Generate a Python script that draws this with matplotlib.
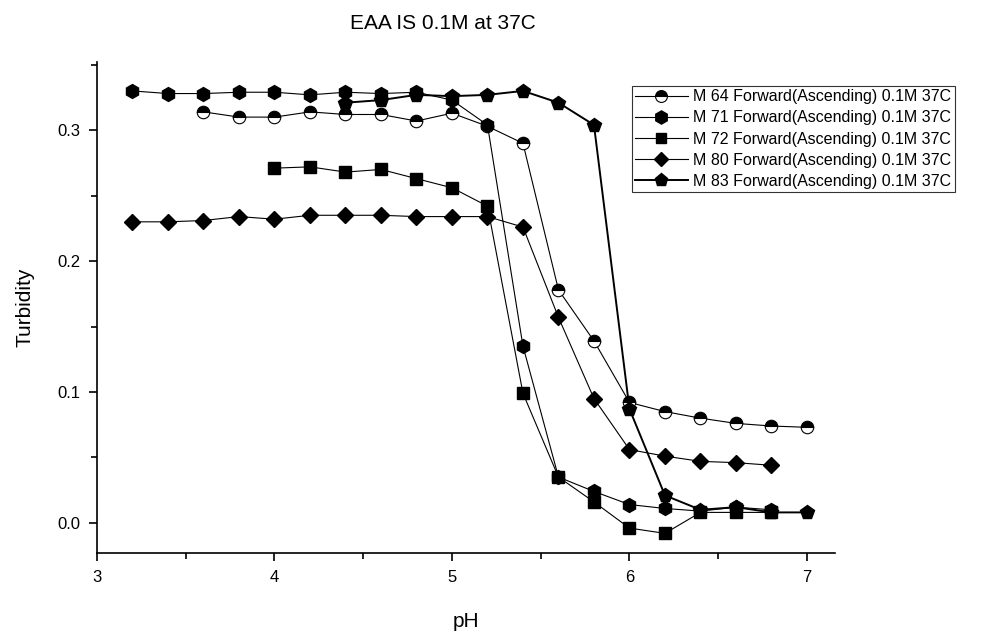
import matplotlib
matplotlib.use("Agg")
import matplotlib.pyplot as plt
from matplotlib.ticker import MultipleLocator

plt.rcParams['font.family'] = ['Liberation Sans', 'DejaVu Sans']

# pH values
ph_m64 = [3.6, 3.8, 4.0, 4.2, 4.4, 4.6, 4.8, 5.0, 5.2, 5.4, 5.6, 5.8, 6.0, 6.2, 6.4, 6.6, 6.8, 7.0]
tu_m64 = [0.314, 0.310, 0.310, 0.314, 0.312, 0.312, 0.307, 0.313, 0.303, 0.290, 0.178, 0.139,
          0.092, 0.085, 0.080, 0.076, 0.074, 0.073]

ph_m71 = [3.2, 3.4, 3.6, 3.8, 4.0, 4.2, 4.4, 4.6, 4.8, 5.0, 5.2, 5.4, 5.6, 5.8, 6.0, 6.2, 6.4, 6.6, 6.8]
tu_m71 = [0.330, 0.328, 0.328, 0.329, 0.329, 0.327, 0.329, 0.328, 0.329, 0.323, 0.304, 0.135,
          0.035, 0.024, 0.014, 0.011, 0.009, 0.012, 0.010]

ph_m72 = [4.0, 4.2, 4.4, 4.6, 4.8, 5.0, 5.2, 5.4, 5.6, 5.8, 6.0, 6.2, 6.4, 6.6, 6.8]
tu_m72 = [0.271, 0.272, 0.268, 0.270, 0.263, 0.256, 0.242, 0.099, 0.035, 0.016, -0.004, -0.008,
          0.008, 0.008, 0.008]

ph_m80 = [3.2, 3.4, 3.6, 3.8, 4.0, 4.2, 4.4, 4.6, 4.8, 5.0, 5.2, 5.4, 5.6, 5.8, 6.0, 6.2, 6.4, 6.6, 6.8]
tu_m80 = [0.230, 0.230, 0.231, 0.234, 0.232, 0.235, 0.235, 0.235, 0.234, 0.234, 0.234, 0.226,
          0.157, 0.095, 0.056, 0.051, 0.047, 0.046, 0.044]

ph_m83 = [4.4, 4.6, 4.8, 5.0, 5.2, 5.4, 5.6, 5.8, 6.0, 6.2, 6.4, 6.6, 6.8, 7.0]
tu_m83 = [0.321, 0.323, 0.327, 0.326, 0.327, 0.330, 0.321, 0.304, 0.087, 0.021, 0.010, 0.012,
          0.008, 0.008]

labels = ["M 64 Forward(Ascending) 0.1M 37C",
          "M 71 Forward(Ascending) 0.1M 37C",
          "M 72 Forward(Ascending) 0.1M 37C",
          "M 80 Forward(Ascending) 0.1M 37C",
          "M 83 Forward(Ascending) 0.1M 37C"]

fig = plt.figure(figsize=(10.03, 6.34), dpi=100)
ax = fig.add_axes([0.0967, 0.128, 0.7358, 0.774])

ms = 9
ax.plot(ph_m64, tu_m64, color='black', lw=0.8, marker='o', ms=ms, fillstyle='top',
        markerfacecolor='black', markerfacecoloralt='white', markeredgecolor='black',
        markeredgewidth=0.8, label=labels[0])
ax.plot(ph_m71, tu_m71, color='black', lw=0.8, marker='h', ms=ms + 1, markerfacecolor='black',
        markeredgecolor='black', label=labels[1])
ax.plot(ph_m72, tu_m72, color='black', lw=0.8, marker='s', ms=ms - 1, markerfacecolor='black',
        markeredgecolor='black', label=labels[2])
ax.plot(ph_m80, tu_m80, color='black', lw=0.8, marker='D', ms=ms - 1, markerfacecolor='black',
        markeredgecolor='black', label=labels[3])
ax.plot(ph_m83, tu_m83, color='black', lw=1.4, marker='p', ms=ms + 1, markerfacecolor='black',
        markeredgecolor='black', label=labels[4])

ax.set_xlim(3, 7.158)
ax.set_ylim(-0.0229, 0.352)
ax.spines['top'].set_visible(False)
ax.spines['right'].set_visible(False)
ax.spines['left'].set_linewidth(1.2)
ax.spines['bottom'].set_linewidth(1.2)

ax.xaxis.set_major_locator(MultipleLocator(1))
ax.xaxis.set_minor_locator(MultipleLocator(0.5))
ax.yaxis.set_major_locator(MultipleLocator(0.1))
ax.yaxis.set_minor_locator(MultipleLocator(0.05))
ax.yaxis.set_major_formatter(plt.FuncFormatter(lambda v, p: f"{v:.1f}"))
ax.xaxis.set_major_formatter(plt.FuncFormatter(lambda v, p: f"{v:.0f}"))
ax.tick_params(which='major', direction='out', length=6, width=1.2, labelsize=12, pad=6)
ax.tick_params(which='minor', direction='out', length=4, width=1.2)

ax.set_xlabel("pH", fontsize=15, labelpad=20)
ax.set_ylabel("Turbidity", fontsize=15, labelpad=16)
fig.text(0.442, 0.963, "EAA IS 0.1M at 37C", ha='center', va='center', fontsize=15)

leg = ax.legend(loc='upper left', bbox_to_anchor=(0.630, 0.864), bbox_transform=fig.transFigure,
                fontsize=11.5, frameon=True, fancybox=False, edgecolor='black',
                handlelength=3.3, handletextpad=0.35, borderpad=0.2, labelspacing=0.38,
                borderaxespad=0, markerscale=0.95)
leg.get_frame().set_linewidth(0.8)

fig.savefig("out.png", dpi=100)
